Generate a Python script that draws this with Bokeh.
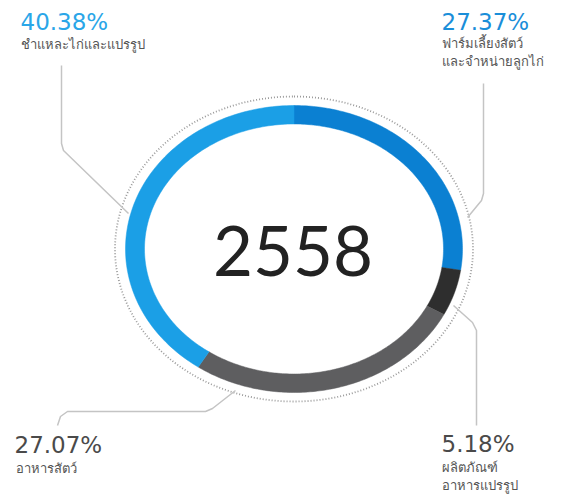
import numpy as np
from bokeh.plotting import figure
from bokeh.models import Range1d
from bokeh.core.properties import value
from bokeh.embed import file_html
from bokeh.resources import INLINE

# ---- data ----
categories = ["ฟาร์มเลี้ยงสัตว์\nและจำหน่ายลูกไก่", "ผลิตภัณฑ์\nอาหารแปรรูป",
              "อาหารสัตว์", "ชำแหละไก่และแปรรูป"]
shares = [27.37, 5.18, 27.07, 40.38]
year_label = "2558"

seg_colors = ["#0b80d2", "#2e2e2e", "#5e5e60", "#1b9fe6"]
pct_colors = ["#1a8ed9", "#4a4a4a", "#4a4a4a", "#2aa6e8"]

# ---- layout (picture-pixel coordinates) ----
W, H = 562, 496
p = figure(width=W, height=H, output_backend="svg", toolbar_location=None,
           x_range=Range1d(0, W), y_range=Range1d(H, 0),
           min_border=0, outline_line_color=None)
p.axis.visible = False
p.grid.visible = False
p.background_fill_color = "white"

cx, cy = 293.5, 248.5
rxo, ryo = 168.5, 143.5
rxi, ryi = 149.5, 125.0
rxd, ryd = 179.0, 152.5

def pt(theta, rx, ry):
    return cx + rx * np.sin(theta), cy - ry * np.cos(theta)

# dotted guide ellipse
t = np.linspace(0, 2 * np.pi, 400)
dx, dy = pt(t, rxd, ryd)
p.line(dx, dy, line_color="#9a9a9a", line_width=1.8, line_dash="1 2")

# ring segments
total = sum(shares)
cum = np.cumsum([0] + shares) / total * 2 * np.pi
xs, ys = [], []
for a0, a1 in zip(cum[:-1], cum[1:]):
    tt = np.linspace(a0, a1, 120)
    ox, oy = pt(tt, rxo, ryo)
    ix, iy = pt(tt[::-1], rxi, ryi)
    xs.append(list(ox) + list(ix))
    ys.append(list(oy) + list(iy))
p.patches(xs, ys, fill_color=seg_colors, line_color=seg_colors, line_width=0.5)

# leader lines
lc = "#c4c4c4"
p.line([61, 61, 63, 128], [65, 143, 150, 213], line_color=lc, line_width=1.5)
p.line([483, 483, 481, 467], [83, 193, 200, 217], line_color=lc, line_width=1.5)
p.line([453, 472, 476, 476], [305, 322, 330, 425], line_color=lc, line_width=1.5)
p.line([235, 212, 205, 67, 60, 57], [390, 408, 411, 411, 416, 425], line_color=lc, line_width=1.5)

# center label
p.text([292.5], [250], text=[year_label], text_align="center", text_baseline="middle",
       text_font=value("Lato"), text_font_size="69px", text_color="#222222")

# percentage labels
pct_pos = [(441, 430), (441, 430), (14, 431), (20, 8)]
pct_pos[0] = (441, 8)
name_pos = [(441, 33), (441, 457), (15, 458), (20, 34)]
for i in range(4):
    p.text([pct_pos[i][0]], [pct_pos[i][1]], text=["%.2f%%" % shares[i]],
           text_align="left", text_baseline="top", text_font=value("DejaVu Sans"),
           text_font_size="23px", text_color=pct_colors[i])
    p.text([name_pos[i][0]], [name_pos[i][1]], text=[categories[i]],
           text_align="left", text_baseline="top", text_font=value("Noto Sans"),
           text_font_size="13px", text_color="#555555", text_line_height=1.0)

open("out.html", "w").write(file_html(p, INLINE))
